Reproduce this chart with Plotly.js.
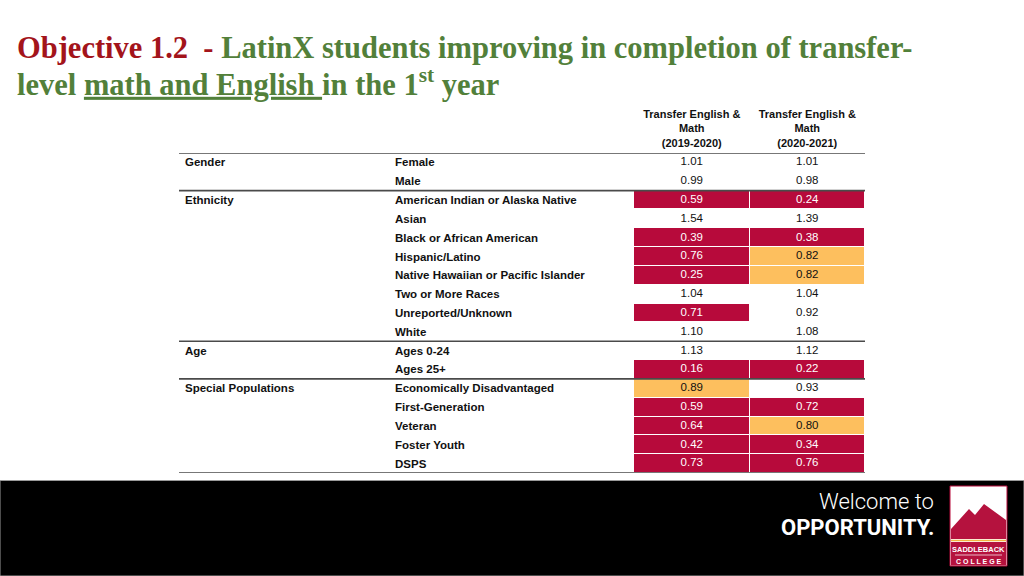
<!DOCTYPE html>
<html>
<head>
<meta charset="utf-8">
<script src="https://cdn.plot.ly/plotly-3.0.1.min.js"></script>
<style>html,body{margin:0;padding:0;background:#fff;}#chart{width:1024px;height:576px;}</style>
</head>
<body>
<div id="chart"></div>
<script>
// ---------- data ----------
const columns = ["Transfer English &<br>Math<br>(2019-2020)", "Transfer English &<br>Math<br>(2020-2021)"];
const rowGroups = ["Gender","Gender",
  "Ethnicity","Ethnicity","Ethnicity","Ethnicity","Ethnicity","Ethnicity","Ethnicity","Ethnicity",
  "Age","Age",
  "Special Populations","Special Populations","Special Populations","Special Populations","Special Populations"];
const subgroups = ["Female","Male",
  "American Indian or Alaska Native","Asian","Black or African American","Hispanic/Latino",
  "Native Hawaiian or Pacific Islander","Two or More Races","Unreported/Unknown","White",
  "Ages 0-24","Ages 25+",
  "Economically Disadvantaged","First-Generation","Veteran","Foster Youth","DSPS"];
const ratio2019 = [1.01,0.99,0.59,1.54,0.39,0.76,0.25,1.04,0.71,1.10,1.13,0.16,0.89,0.59,0.64,0.42,0.73];
const ratio2020 = [1.01,0.98,0.24,1.39,0.38,0.82,0.82,1.04,0.92,1.08,1.12,0.22,0.93,0.72,0.80,0.34,0.76];

// ---------- styles ----------
const RED = "#B70A3B", ORANGE = "#FDBF5E";
const FONT = "Liberation Sans, Arial, sans-serif";
const X = p => p / 1024, Y = p => 1 - p / 576;

function level(v) { return v < 0.80 ? 2 : (v < 0.90 ? 1 : 0); }
const seriesList = [ratio2019, ratio2020];

const z = subgroups.map((_, i) => seriesList.map(s => level(s[i])));

const heat = {
  type: "heatmap", x: columns, y: subgroups, z: z,
  zmin: 0, zmax: 2, showscale: false, hoverinfo: "skip",
  xgap: 1, ygap: 1,
  colorscale: [[0, "#FFFFFF"], [0.333, "#FFFFFF"], [0.333, ORANGE], [0.667, ORANGE], [0.667, RED], [1, RED]]
};

const textTraces = seriesList.map((s, j) => ({
  type: "scatter", mode: "text", hoverinfo: "skip", showlegend: false,
  x: subgroups.map(() => columns[j]), y: subgroups,
  text: s.map(v => v.toFixed(2)),
  textposition: "middle center",
  textfont: { family: FONT, size: 11.5, color: s.map(v => level(v) === 2 ? "#FFFFFF" : "#111111") }
}));

// annotations: row labels
const annotations = [];
subgroups.forEach((lab, i) => {
  annotations.push({ xref: "paper", yref: "y", x: X(393), y: lab, xanchor: "left", yanchor: "middle",
    text: "<b>" + lab + "</b>", showarrow: false, font: { family: FONT, size: 11.5, color: "#111" } });
  if (i === 0 || rowGroups[i] !== rowGroups[i - 1]) {
    annotations.push({ xref: "paper", yref: "y", x: X(183), y: lab, xanchor: "left", yanchor: "middle",
      text: "<b>" + rowGroups[i] + "</b>", showarrow: false, font: { family: FONT, size: 11.5, color: "#111" } });
  }
});

// title
const GREEN = "#52803A", DRED = "#A3141B";
const TFONT = "Liberation Serif, DejaVu Serif, serif";
annotations.push({ xref: "paper", yref: "paper", x: X(15), y: Y(48), xanchor: "left", yanchor: "middle", showarrow: false,
  text: "<b><span style='color:" + DRED + "'>Objective 1.2  - </span>LatinX students improving in completion of transfer-</b>",
  font: { family: TFONT, size: 30.5, color: GREEN } });
annotations.push({ xref: "paper", yref: "paper", x: X(15), y: Y(82), xanchor: "left", yanchor: "middle", showarrow: false,
  text: "<b>level <u>math and English </u>in the 1<sup>st</sup> year</b>",
  font: { family: TFONT, size: 30.5, color: GREEN } });

// footer text
annotations.push({ xref: "paper", yref: "paper", x: X(936), y: Y(501), xanchor: "right", yanchor: "middle", showarrow: false,
  text: "Welcome to", font: { family: "Liberation Sans Narrow, Roboto, sans-serif", size: 22, color: "#FFFFFF", weight: 300 } });
annotations.push({ xref: "paper", yref: "paper", x: X(936), y: Y(527), xanchor: "right", yanchor: "middle", showarrow: false,
  text: "<b>OPPORTUNITY.</b>", font: { family: "Liberation Sans Narrow, Roboto, sans-serif", size: 22, color: "#FFFFFF" } });
annotations.push({ xref: "paper", yref: "paper", x: X(978.5), y: Y(549), xanchor: "center", yanchor: "middle", showarrow: false,
  text: "<b>SADDLEBACK</b>", font: { family: FONT, size: 7.5, color: "#FFFFFF" } });
annotations.push({ xref: "paper", yref: "paper", x: X(978.5), y: Y(561), xanchor: "center", yanchor: "middle", showarrow: false,
  text: "<b>C O L L E G E</b>", font: { family: FONT, size: 7, color: "#FFFFFF" } });

// shapes: separator lines between groups
const shapes = [];
const lineAt = yv => shapes.push({ type: "line", xref: "paper", yref: "y", x0: X(179), x1: X(865), y0: yv, y1: yv,
  line: { color: "#4a4a4a", width: 1.6 } });
lineAt(-0.5);
rowGroups.forEach((g, i) => { if (i > 0 && g !== rowGroups[i - 1]) lineAt(i - 0.5); });
lineAt(subgroups.length - 0.5);

// footer band + logo
shapes.push({ type: "rect", xref: "paper", yref: "paper", x0: 0, x1: 1, y0: 0, y1: Y(480.5),
  fillcolor: "#000000", line: { color: "#9a9a9a", width: 1 } });
shapes.push({ type: "rect", xref: "paper", yref: "paper", x0: X(950), x1: X(1007), y0: Y(566), y1: Y(486),
  fillcolor: "#FFFFFF", line: { color: RED, width: 1 } });
shapes.push({ type: "path", xref: "paper", yref: "paper", fillcolor: "#B5123E", line: { width: 0 },
  path: "M " + X(951) + "," + Y(529) + " L " + X(969) + "," + Y(509) + " L " + X(975) + "," + Y(515) +
        " L " + X(984) + "," + Y(504) + " L " + X(1006) + "," + Y(520) + " L " + X(1006) + "," + Y(539) +
        " L " + X(951) + "," + Y(539) + " Z" });
shapes.push({ type: "line", xref: "paper", yref: "paper", x0: X(951), x1: X(1006), y0: Y(540.5), y1: Y(540.5),
  line: { color: "#F2B441", width: 1.5 } });
shapes.push({ type: "rect", xref: "paper", yref: "paper", x0: X(951), x1: X(1006), y0: Y(565.5), y1: Y(542),
  fillcolor: "#B5123E", line: { width: 0 } });
shapes.push({ type: "line", xref: "paper", yref: "paper", x0: X(955), x1: X(1002), y0: Y(555), y1: Y(555),
  line: { color: "#FFFFFF", width: 0.7 } });

const layout = {
  width: 1024, height: 576,
  margin: { l: 0, r: 0, t: 0, b: 0 },
  paper_bgcolor: "#FFFFFF", plot_bgcolor: "#FFFFFF",
  showlegend: false,
  xaxis: {
    domain: [X(634), X(865)], type: "category", side: "top", range: [-0.5, 1.5],
    showgrid: false, zeroline: false, showline: false, ticks: "", ticklabelstandoff: 3,
    tickvals: columns, ticktext: columns.map(c => "<b>" + c + "</b>"),
    tickfont: { family: FONT, size: 11, color: "#111" }, fixedrange: true
  },
  yaxis: {
    domain: [1 - 473 / 576, 1 - 153 / 576], type: "category", range: [subgroups.length - 0.5, -0.5],
    showgrid: false, zeroline: false, showline: false, showticklabels: false, ticks: "", fixedrange: true
  },
  annotations: annotations,
  shapes: shapes
};

Plotly.newPlot("chart", [heat, ...textTraces], layout, { staticPlot: true, displayModeBar: false });
</script>
</body>
</html>
